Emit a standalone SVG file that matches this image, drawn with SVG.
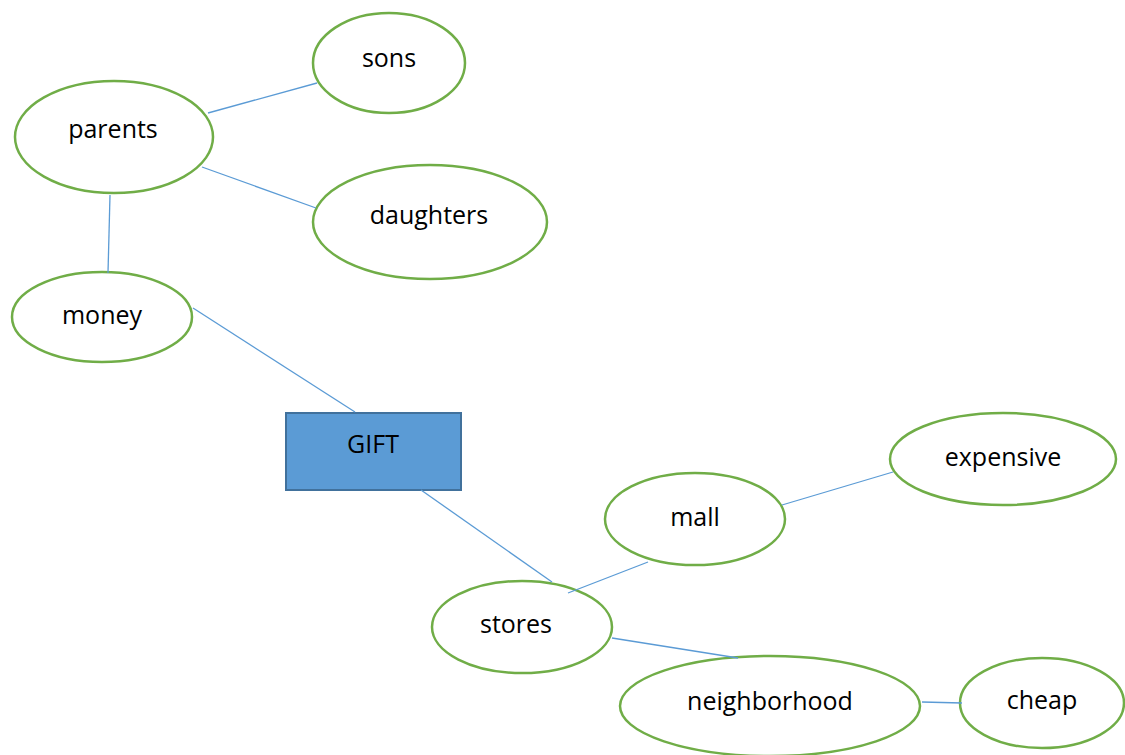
<svg xmlns="http://www.w3.org/2000/svg" width="1125" height="755" viewBox="0 0 1125 755">
  <style>
    .node { fill: #ffffff; stroke: #70AD47; stroke-width: 2.5; }
    .box { fill: #5B9BD5; stroke: #41719C; stroke-width: 2; }
    .label { font-family: "Open Sans", "Liberation Sans", sans-serif; font-size: 25px; fill: #000000; text-anchor: middle; dominant-baseline: central; }
    .edge { stroke: #5B9BD5; stroke-width: 1.3; fill: none; }
  </style>
  <rect width="1125" height="755" fill="#ffffff"/>

  <g id="sons">
    <ellipse class="node" cx="389" cy="63" rx="76" ry="50"/>
    <text class="label" x="389" y="57">sons</text>
  </g>
  <g id="parents">
    <ellipse class="node" cx="114" cy="137" rx="99" ry="56"/>
    <text class="label" x="113" y="128">parents</text>
  </g>
  <g id="daughters">
    <ellipse class="node" cx="430" cy="222" rx="117" ry="57"/>
    <text class="label" x="429" y="214">daughters</text>
  </g>
  <g id="money">
    <ellipse class="node" cx="102" cy="317" rx="90" ry="45"/>
    <text class="label" x="102" y="314">money</text>
  </g>
  <g id="gift">
    <rect class="box" x="286" y="413" width="175" height="77"/>
    <text class="label" x="373" y="443">GIFT</text>
  </g>
  <g id="expensive">
    <ellipse class="node" cx="1003" cy="459" rx="113" ry="46"/>
    <text class="label" x="1003" y="456">expensive</text>
  </g>
  <g id="mall">
    <ellipse class="node" cx="695" cy="519" rx="90" ry="46"/>
    <text class="label" x="695" y="516">mall</text>
  </g>
  <g id="stores">
    <ellipse class="node" cx="522" cy="627" rx="90" ry="46"/>
    <text class="label" x="516" y="623">stores</text>
  </g>
  <g id="neighborhood">
    <ellipse class="node" cx="770" cy="706" rx="150" ry="50"/>
    <text class="label" x="770" y="700">neighborhood</text>
  </g>
  <g id="cheap">
    <ellipse class="node" cx="1042" cy="703" rx="82" ry="45"/>
    <text class="label" x="1042" y="699">cheap</text>
  </g>

  <!-- links drawn on top of the shapes -->
  <g id="connectors">
    <line class="edge" x1="208" y1="113" x2="317" y2="83"/>
    <line class="edge" x1="202" y1="167" x2="316" y2="208"/>
    <line class="edge" x1="110" y1="195" x2="108" y2="273"/>
    <line class="edge" x1="193" y1="308" x2="355" y2="412"/>
    <line class="edge" x1="421" y1="490" x2="552" y2="582"/>
    <line class="edge" x1="568" y1="593" x2="648" y2="562"/>
    <line class="edge" x1="782" y1="505" x2="893" y2="472"/>
    <line class="edge" x1="612" y1="638" x2="738" y2="658"/>
    <line class="edge" x1="922" y1="702" x2="962" y2="703"/>
  </g>
</svg>
